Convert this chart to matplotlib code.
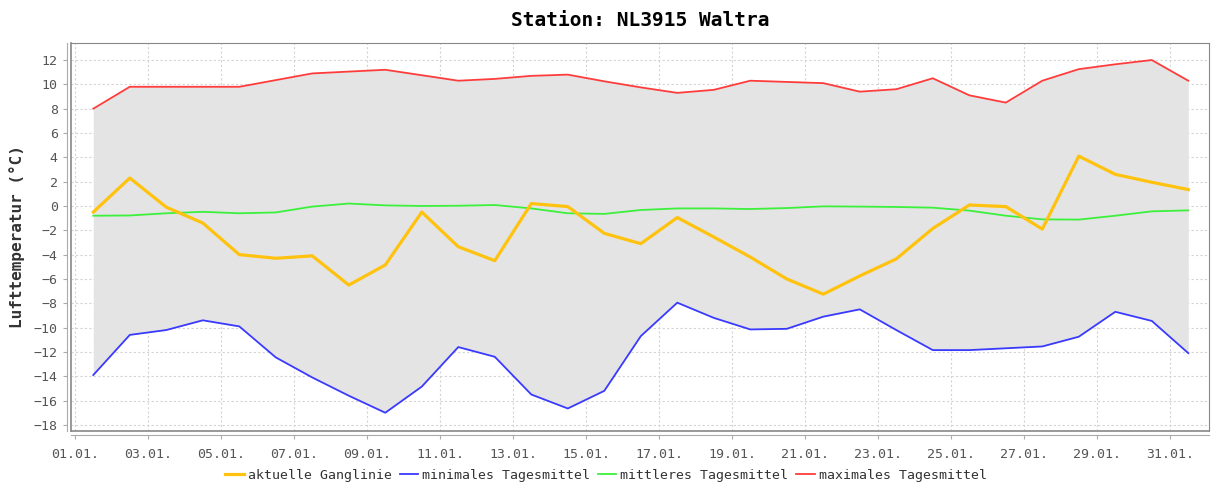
import numpy as np
import matplotlib
matplotlib.use("Agg")
import matplotlib.pyplot as plt

# Tage (Mittag) ab 01.01.
tage = np.arange(31) + 0.5

aktuell = [-0.5, 2.3, -0.1, -1.4, -4.0, -4.3, -4.1, -6.5, -4.85, -0.5,
           -3.35, -4.5, 0.2, -0.05, -2.25, -3.1, -0.95, -2.55, -4.2, -6.0,
           -7.25, -5.75, -4.35, -1.85, 0.08, -0.05, -1.9, 4.1, 2.6, 1.95, 1.35]
minimal = [-13.9, -10.6, -10.2, -9.4, -9.9, -12.45, -14.1, -15.6, -17.0, -14.85,
           -11.6, -12.4, -15.5, -16.65, -15.2, -10.7, -7.95, -9.2, -10.15, -10.1,
           -9.1, -8.5, -10.2, -11.85, -11.85, -11.7, -11.55, -10.75, -8.7, -9.45, -12.1]
mittel = [-0.8, -0.78, -0.6, -0.48, -0.6, -0.53, -0.05, 0.2, 0.05, 0.0,
          0.02, 0.08, -0.2, -0.6, -0.65, -0.33, -0.2, -0.2, -0.25, -0.17,
          -0.03, -0.05, -0.08, -0.14, -0.38, -0.8, -1.1, -1.12, -0.8, -0.44, -0.36]
maximal = [8.0, 9.8, 9.8, 9.8, 9.8, 10.35, 10.9, 11.05, 11.2, 10.75,
           10.3, 10.45, 10.7, 10.8, 10.25, 9.75, 9.3, 9.55, 10.3, 10.2,
           10.1, 9.4, 9.6, 10.5, 9.1, 8.5, 10.3, 11.25, 11.65, 12.0, 10.3]

xtick_pos = np.arange(0, 31, 2)
xtick_labels = [f"{d + 1:02d}.01." for d in xtick_pos]
yticks = np.arange(-18, 13, 2)

fig = plt.figure(figsize=(12.12, 4.86), dpi=100)
ax = fig.add_axes([0.0586, 0.1132, 0.939, 0.7983])

# Spannweite zwischen min. und max. Tagesmittel
ax.fill_between(tage, minimal, maximal, color="#e4e4e4", linewidth=0, zorder=1)

ax.plot(tage, aktuell, color="#ffc20e", lw=2.3, label="aktuelle Ganglinie", zorder=4)
ax.plot(tage, minimal, color="#3a3aff", lw=1.3, label="minimales Tagesmittel", zorder=3)
ax.plot(tage, mittel, color="#3cf03c", lw=1.3, label="mittleres Tagesmittel", zorder=3)
ax.plot(tage, maximal, color="#ff3c3c", lw=1.3, label="maximales Tagesmittel", zorder=3)

ax.set_xlim(-0.11, 31.07)
ax.set_ylim(-18.5, 13.4)
ax.set_xticks(xtick_pos)
ax.set_xticklabels(xtick_labels)
ax.set_yticks(yticks)

ax.grid(True, color="#d4d4d4", linestyle=(0, (2, 2)), lw=0.8, zorder=0)
ax.set_axisbelow(True)

# Achsen wie im Original leicht abgesetzt
for s in ["left", "bottom"]:
    ax.spines[s].set_position(("outward", 3))
    ax.spines[s].set_color("#aaaaaa")
for s in ["top", "right"]:
    ax.spines[s].set_color("#888888")
ax.plot([0, 0], [0, 1], transform=ax.transAxes, color="#888888", lw=1.2, clip_on=False, zorder=5)
ax.plot([0, 1], [0, 0], transform=ax.transAxes, color="#888888", lw=1.2, clip_on=False, zorder=5)

ax.tick_params(axis="both", colors="#aaaaaa", labelcolor="#555555", length=3,
               labelsize=9.5)
ax.tick_params(axis="x", pad=6)
for lab in ax.get_xticklabels() + ax.get_yticklabels():
    lab.set_family("DejaVu Sans Mono")

ax.set_title("Station: NL3915 Waltra", fontsize=14, fontweight="bold",
             family="DejaVu Sans Mono", pad=12)
ax.set_ylabel("Lufttemperatur (°C)", fontsize=11.5, fontweight="bold",
              family="DejaVu Sans Mono", color="#333333", labelpad=6)

leg = fig.legend(loc="lower center", bbox_to_anchor=(0.5, -0.016), ncol=4, frameon=False,
                 prop={"family": "DejaVu Sans Mono", "size": 9.5},
                 handlelength=1.4, handletextpad=0.3, columnspacing=0.6)
for t in leg.get_texts():
    t.set_color("#333333")

fig.savefig("out.png", dpi=100)
